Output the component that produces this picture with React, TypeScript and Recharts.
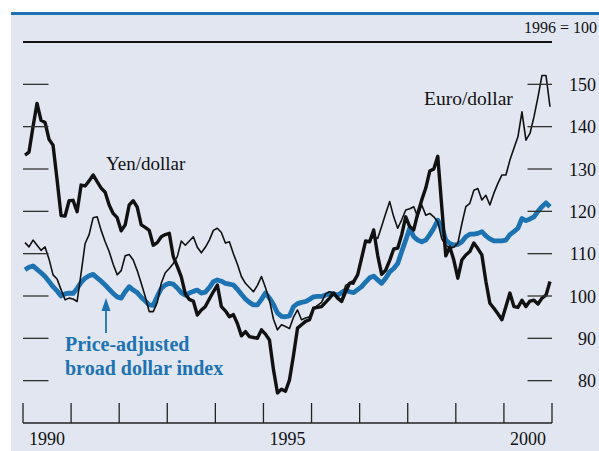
import React from "react";
import { LineChart, Line, XAxis, YAxis, ReferenceLine } from "recharts";

// monthly values, Jan 1990 - Dec 2000, index 1996 = 100
const yen = [
  133.3, 134.0, 140.0, 145.5, 141.5, 141.0, 137.0, 135.6, 127.5, 119.0, 118.9, 122.5,
  122.6, 119.9, 126.2, 126.0, 127.2, 128.6, 127.0, 125.5, 124.5, 121.5, 119.5, 118.5,
  115.4, 116.8, 121.5, 122.5, 121.0, 116.8, 116.2, 115.5, 112.0, 112.6, 114.0, 114.5,
  114.8, 109.3, 107.0, 104.5, 100.5, 99.2, 98.8, 95.5, 96.7, 97.5, 99.3, 101.0,
  102.6, 97.5, 96.5, 95.1, 95.6, 93.5, 90.6, 91.6, 90.4, 90.2, 90.0, 92.0,
  91.0, 89.6, 82.6, 77.1, 78.0, 77.5, 80.2, 86.0, 92.4, 93.2, 94.0, 94.4,
  97.1, 97.3, 97.5, 98.5, 99.5, 100.7, 99.5, 98.7, 101.0, 103.0, 103.4, 105.0,
  109.0, 113.0, 112.8, 115.6, 109.6, 105.1, 106.1, 108.4, 111.1, 111.3, 114.5, 118.7,
  116.4, 115.6, 119.5, 122.7, 125.5, 129.5, 130.0, 133.0, 121.0, 109.5, 111.6, 108.5,
  104.2, 108.5, 109.7, 110.5, 112.5, 111.2, 109.7, 103.5, 98.3, 97.1, 95.8, 94.4,
  97.5, 100.7, 97.5, 97.3, 99.0, 97.5, 98.8, 99.0, 98.1, 99.5, 100.2, 103.4
];

const euro = [
  112.6, 111.6, 113.2, 112.0, 110.8, 111.6, 108.7, 105.0, 104.0, 101.5, 99.1, 99.5,
  99.3, 98.7, 105.4, 112.4, 114.5, 118.5, 118.7, 115.5, 112.8, 110.5, 107.5, 105.0,
  106.0, 109.5, 109.8, 108.5, 106.0, 103.0, 99.9, 96.3, 96.3, 98.5, 103.0, 105.5,
  106.5, 107.7, 109.3, 113.0, 112.0, 113.0, 114.0, 111.5, 110.2, 111.5, 113.2, 115.5,
  116.0, 115.0, 112.5, 112.8, 110.0, 107.5, 104.6, 103.0, 102.0, 101.0, 102.5, 104.6,
  102.0, 99.0, 94.5, 92.0, 93.2, 92.8, 92.3, 95.0, 96.7, 94.4, 94.8, 95.1,
  97.1, 97.8, 98.5, 100.5, 101.0, 100.6, 99.7, 99.0, 102.5, 103.0, 102.8, 105.0,
  108.5, 112.8, 113.2, 114.0, 113.6, 116.5, 119.5, 122.3, 118.7, 116.0, 118.0, 120.3,
  120.6, 121.1, 118.7, 121.5, 119.1, 119.5, 118.7, 117.5, 113.5, 112.0, 111.3, 111.5,
  112.5, 117.0, 121.1, 121.9, 125.0, 125.4, 122.7, 123.8, 121.5, 124.3, 126.6, 128.6,
  128.6, 132.1, 134.9, 137.6, 143.5, 136.8, 138.4, 142.3, 147.0, 152.1, 152.1, 144.7
];

const broad = [
  106.2, 106.8, 107.1, 106.3, 105.5, 104.6, 103.4, 102.2, 101.2, 100.0, 100.5, 100.7,
  100.6, 101.8, 103.2, 104.2, 104.8, 105.1, 104.3, 103.5, 102.6, 101.6, 100.6, 99.8,
  99.5, 101.0, 102.2, 101.4, 100.8, 99.7, 98.8, 97.9, 97.8, 99.9, 101.8, 102.6,
  103.0, 102.8, 101.9, 100.8, 100.2, 100.7, 101.1, 101.4, 100.7, 100.9, 102.0, 103.4,
  103.8, 103.5, 103.0, 102.8, 102.6, 101.6, 100.4, 99.3, 98.5, 97.9, 97.9, 99.2,
  100.7, 99.5, 98.0, 96.0, 95.2, 95.1, 95.3, 97.5, 98.2, 98.5, 98.7, 99.2,
  99.8, 99.9, 99.9, 100.2, 100.6, 100.5, 100.2, 100.8, 101.4, 101.0, 100.8, 101.5,
  102.2, 103.3, 104.3, 104.7, 103.8, 103.0, 104.2, 105.7, 106.5, 107.7, 110.5, 113.2,
  116.0, 114.0, 113.2, 112.8, 113.2, 114.5, 116.0, 117.9, 116.4, 113.2, 112.4, 112.0,
  112.2, 112.8, 114.0, 114.6, 114.6, 114.8, 115.2, 114.2, 113.5, 113.0, 113.0, 113.0,
  113.2, 114.5, 115.2, 116.0, 118.3, 117.8, 118.2, 118.7, 120.0, 121.1, 122.0, 121.1
];

const yearTicks = [1990, 1991, 1992, 1993, 1994, 1995, 1996, 1997, 1998, 1999, 2000, 2001];
const yearLabels = [1990, 1995, 2000];
const valueTicks = [80, 90, 100, 110, 120, 130, 140, 150];

const W = 599;
const H = 451;
const PLOT_L = 23;
const PLOT_R = 552;
const HALF_YEAR = (PLOT_R - PLOT_L) / 22;
const BLUE = "#1d72b1";
const SERIF = "'Liberation Serif', 'Times New Roman', serif";

const data = yen.map((v, i) => ({
  t: 1990 + (i + 0.5) / 12,
  yen: v,
  euro: euro[i],
  broad: broad[i]
}));

function YearTick({ x, y, payload }: any) {
  const v = payload.value;
  return (
    <g>
      <line x1={x} x2={x} y1={y} y2={y - 20} stroke="#222" strokeWidth={1.3} />
      {yearLabels.includes(v) && (
        <text x={x + HALF_YEAR} y={y + 22} textAnchor="middle" fontSize={18} fontFamily={SERIF} fill="#111">
          {v}
        </text>
      )}
    </g>
  );
}

function ValueTick({ x, y, payload }: any) {
  return (
    <g>
      <line x1={PLOT_L} x2={PLOT_L + 25.5} y1={y} y2={y} stroke="#333" strokeWidth={1.3} />
      <line x1={x - 24.5} x2={x} y1={y} y2={y} stroke="#333" strokeWidth={1.3} />
      <text x={W - 3} y={y + 6.5} textAnchor="end" fontSize={18} fontFamily={SERIF} fill="#111">
        {payload.value}
      </text>
    </g>
  );
}

export default function App() {
  return (
    <div style={{ position: "absolute", left: 0, top: 0, width: W, height: H, background: "#fff" }}>
      <div
        style={{
          position: "absolute",
          left: 11,
          top: 12,
          width: W - 11,
          height: H - 12,
          background: "#e1e6f1",
          borderTop: `3px solid ${BLUE}`,
          boxSizing: "border-box"
        }}
      />
      <div style={{ position: "absolute", left: 0, top: 0 }}>
        <LineChart width={W} height={H} data={data} margin={{ top: 42, right: 0, bottom: 0, left: 23 }}>
          <XAxis
            dataKey="t"
            type="number"
            domain={[1990, 2001]}
            ticks={yearTicks}
            interval={0}
            height={28}
            tickSize={0}
            tickMargin={0}
            tickLine={false}
            axisLine={{ stroke: "#222", strokeWidth: 1.5 }}
            tick={<YearTick />}
          />
          <YAxis
            orientation="right"
            type="number"
            domain={[70, 160]}
            ticks={valueTicks}
            interval={0}
            width={47}
            tickSize={0}
            tickMargin={0}
            tickLine={false}
            axisLine={false}
            tick={<ValueTick />}
          />
          <ReferenceLine y={160} stroke="#111" strokeWidth={2} />
          <Line
            dataKey="broad"
            type="linear"
            stroke={BLUE}
            strokeWidth={4.8}
            dot={false}
            strokeLinejoin="round"
            isAnimationActive={false}
          />
          <Line
            dataKey="euro"
            type="linear"
            stroke="#111"
            strokeWidth={1.6}
            dot={false}
            strokeLinejoin="round"
            isAnimationActive={false}
          />
          <Line
            dataKey="yen"
            type="linear"
            stroke="#111"
            strokeWidth={3.4}
            dot={false}
            strokeLinejoin="round"
            isAnimationActive={false}
          />
        </LineChart>
      </div>
      <svg
        width={W}
        height={H}
        style={{ position: "absolute", left: 0, top: 0, pointerEvents: "none" }}
        fontFamily={SERIF}
      >
        <text x={597} y={32.5} textAnchor="end" fontSize={16} fill="#111">1996 = 100</text>
        <text x={106} y={170} fontSize={19} fill="#111">Yen/dollar</text>
        <text x={424} y={105} fontSize={19.5} fill="#111">Euro/dollar</text>
        <text x={65} y={351} fontSize={20} fontWeight="bold" fill={BLUE}>Price-adjusted</text>
        <text x={65} y={375} fontSize={20} fontWeight="bold" fill={BLUE}>broad dollar index</text>
        <line x1={106} x2={106} y1={333} y2={308} stroke={BLUE} strokeWidth={1.8} />
        <path d="M 101.5 311 L 110.5 311 L 106 298 Z" fill={BLUE} />
      </svg>
    </div>
  );
}
